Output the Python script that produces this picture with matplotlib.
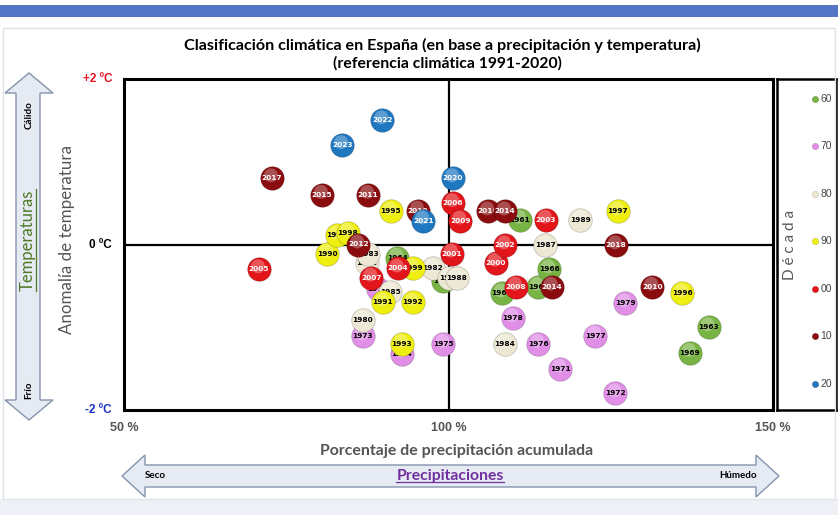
import matplotlib
matplotlib.use('Agg')
import matplotlib.pyplot as plt
from matplotlib import patches, transforms
import numpy as np

# ---------------- data ----------------
years = ['1961', '1962', '1963', '1964', '1965', '1966', '1967', '1969',
         '1970', '1971', '1972', '1973', '1974', '1975', '1976', '1977', '1978', '1979',
         '1980', '1981', '1982', '1983', '1984', '1985', '1986', '1987', '1988', '1989',
         '1990', '1991', '1992', '1993', '1994', '1995', '1996', '1997', '1998', '1999',
         '2000', '2001', '2002', '2003', '2004', '2005', '2006', '2007', '2008', '2009',
         '2010', '2011', '2012', '2014', '2015', '2016', '2014', '2017', '2018', '2010',
         '2020', '2021', '2022', '2023']
precip = [111.0, 113.8, 140.1, 92.1, 108.2, 115.5, 99.2, 137.2,
          89.1, 117.2, 125.7, 86.8, 92.8, 99.2, 113.8, 122.6, 109.9, 127.2,
          86.8, 87.4, 97.6, 87.6, 108.7, 91.0, 100.1, 114.9, 101.3, 120.3,
          81.3, 89.9, 94.5, 92.8, 82.8, 91.1, 136.0, 126.1, 84.5, 94.5,
          107.3, 100.5, 108.7, 115.0, 92.2, 70.8, 100.7, 88.1, 110.4, 101.8,
          131.4, 87.6, 86.1, 115.9, 80.5, 106.1, 108.7, 72.8, 125.8, 95.3,
          100.7, 96.1, 89.8, 83.6]
temp = [0.30, -0.51, -1.00, -0.16, -0.59, -0.30, -0.44, -1.31,
        -0.54, -1.50, -1.80, -1.11, -1.32, -1.20, -1.20, -1.10, -0.89, -0.71,
        -0.91, -0.22, -0.29, -0.11, -1.20, -0.57, -0.40, -0.01, -0.40, 0.30,
        -0.11, -0.70, -0.70, -1.20, 0.11, 0.40, -0.59, 0.40, 0.145, -0.29,
        -0.22, -0.11, -0.01, 0.30, -0.29, -0.30, 0.50, -0.40, -0.51, 0.29,
        -0.51, 0.60, 0.00, -0.51, 0.60, 0.40, 0.40, 0.80, -0.01, 0.41,
        0.80, 0.29, 1.50, 1.20]
decade = ['60'] * 8 + ['70'] * 10 + ['80'] * 10 + ['90'] * 10 + ['00'] * 10 + ['10'] * 10 + ['20'] * 4

decade_labels = ['60', '70', '80', '90', '00', '10', '20']
decade_colors = ['#78b443', '#e08ee6', '#ece8d4', '#eeee10', '#e2151b', '#8a0c0e', '#1f77c0']
decade_text = ['black', 'black', 'black', 'black', 'white', 'white', 'white']

x_ticks = [50, 100, 150]
x_ticklabels = ['50 %', '100 %', '150 %']
y_ticks = [2, 0, -2]
y_ticklabels = ['+2 ºC', '0 ºC', '-2 ºC']
y_tickcolors = ['#e0141e', 'black', '#1a2fc0']

# ---------------- figure ----------------
W, H = 838, 515
fig = plt.figure(figsize=(W / 100, H / 100), dpi=100)
fig.patch.set_facecolor('white')

def fx(px):
    return px / W

def fy(py):
    return 1 - py / H

# top band and bottom band
fig.patches.append(patches.Rectangle((0, fy(17)), 1, fy(5) - fy(17), transform=fig.transFigure,
                                     facecolor='#5475c4', edgecolor='none', zorder=0))
fig.patches.append(patches.Rectangle((0, 0), 1, fy(499), transform=fig.transFigure,
                                     facecolor='#eef0f5', edgecolor='none', zorder=0))
fig.patches.append(patches.Rectangle((fx(3), fy(499)), fx(832), fy(28) - fy(499), transform=fig.transFigure,
                                     facecolor='none', edgecolor='#dfe3ea', lw=1.0, zorder=0))

# ---------------- main axes ----------------
L, R, T, B = 124, 773, 79, 410
ax = fig.add_axes([fx(L), fy(B), fx(R) - fx(L), fy(T) - fy(B)])
ax.set_facecolor('none')
ax.set_xlim(50, 150)
ax.set_ylim(-2, 2)
for sp in ax.spines.values():
    sp.set_linewidth(2.2)
    sp.set_color('black')
ax.axvline(100, color='black', lw=1.6, zorder=1)
ax.axhline(0, color='black', lw=1.6, zorder=1)
ax.set_xticks([])
ax.set_yticks([])

hl = transforms.offset_copy(ax.transData, fig=fig, x=-1.0, y=3.0, units='dots')
for i, (yr, xv, yv, d) in enumerate(zip(years, precip, temp, decade)):
    k = decade_labels.index(d)
    c = decade_colors[k]
    z = 3 + i * 0.01
    ax.scatter([xv], [yv], s=290, color=c, edgecolors='#00000030', linewidths=0.6, zorder=z)
    ax.scatter([xv], [yv], s=100, color='white', alpha=0.28, edgecolors='none', zorder=z + 0.002,
               transform=hl)
    ax.text(xv, yv, yr, fontsize=5.3, fontweight='bold', color=decade_text[k],
            ha='center', va='center', zorder=z + 0.005, family='DejaVu Sans')

# tick labels
for v, lab, col in zip(y_ticks, y_ticklabels, y_tickcolors):
    fig.text(fx(112), ax.transData.transform((50, v))[1] / H, lab, color=col, fontsize=8.5,
             fontweight='bold', ha='right', va='center', family='Liberation Sans')
for v, lab in zip(x_ticks, x_ticklabels):
    fig.text(ax.transData.transform((v, 0))[0] / W, fy(428), lab, color='#555555', fontsize=9,
             fontweight='bold', ha='center', va='center', family='Liberation Sans')

# titles
fig.text(fx(442), fy(45), 'Clasificación climática en España (en base a precipitación y temperatura)',
         fontsize=11.6, fontweight='bold', ha='center', va='center', family='Lato')
fig.text(fx(447), fy(63), '(referencia climática 1991-2020)',
         fontsize=11.3, fontweight='bold', ha='center', va='center', family='Lato')

fig.text(fx(457), fy(451), 'Porcentaje de precipitación acumulada', fontsize=11.4, fontweight='bold',
         color='#555555', ha='center', va='center', family='Lato')
fig.text(fx(67), fy(240), 'Anomalía de temperatura', fontsize=12.2, color='#555555', rotation=90,
         ha='center', va='center', family='Lato')

# ---------------- arrows ----------------
vpts = [(29, 73), (53, 93), (40, 93), (40, 400), (53, 400), (29, 420), (5, 400), (16, 400), (16, 93), (5, 93)]
fig.patches.append(patches.Polygon([(fx(a), fy(b)) for a, b in vpts], closed=True, transform=fig.transFigure,
                                   facecolor='#e6eaf2', edgecolor='#8593ad', lw=1.0, zorder=1))
hpts = [(122, 476), (145, 455), (145, 465), (756, 465), (756, 455), (779, 476), (756, 497), (756, 487),
        (145, 487), (145, 497)]
fig.patches.append(patches.Polygon([(fx(a), fy(b)) for a, b in hpts], closed=True, transform=fig.transFigure,
                                   facecolor='#e6eaf2', edgecolor='#8593ad', lw=1.0, zorder=1))

fig.text(fx(29), fy(115), 'Cálido', fontsize=7, fontweight='bold', rotation=90, ha='center', va='center',
         family='Lato')
fig.text(fx(29), fy(390), 'Frío', fontsize=7, fontweight='bold', rotation=90, ha='center', va='center',
         family='Lato')
t_temp = fig.text(fx(28), fy(240), 'Temperaturas', fontsize=12, color='#4e7a26', rotation=90,
                  ha='center', va='center', family='Lato')
fig.text(fx(155), fy(476), 'Seco', fontsize=7, fontweight='bold', ha='center', va='center', family='Lato')
fig.text(fx(738), fy(476), 'Húmedo', fontsize=7, fontweight='bold', ha='center', va='center', family='Lato')
t_prec = fig.text(fx(450), fy(476), 'Precipitaciones', fontsize=11.3, fontweight='bold', color='#7030a0',
                  ha='center', va='center', family='Lato')

# ---------------- legend panel ----------------
lax = fig.add_axes([fx(777), fy(B), fx(836) - fx(777), fy(T) - fy(B)])
lax.set_xlim(0, 1)
lax.set_ylim(0, 1)
lax.set_xticks([])
lax.set_yticks([])
lax.set_facecolor('none')
for sp in lax.spines.values():
    sp.set_linewidth(1.8)
lpos = np.linspace(0.94, 0.08, len(decade_labels))
for lab, col, yy in zip(decade_labels, decade_colors, lpos):
    lax.scatter([0.64], [yy], s=22, color=col, edgecolors='#00000030', linewidths=0.4)
    lax.text(0.74, yy, lab, fontsize=7.5, color='#444444', va='center', ha='left', family='Liberation Sans')
lax.text(0.22, 0.5, 'D é c a d a', rotation=90, fontsize=11, color='#5a5a5a', ha='center', va='center',
         family='Lato')

# underlines
fig.canvas.draw()
r = fig.canvas.get_renderer()
bb = t_prec.get_window_extent(r)
fig.lines.append(plt.Line2D([bb.x0 / W, bb.x1 / W], [(bb.y0 + 1) / H] * 2, transform=fig.transFigure,
                            color='#7030a0', lw=0.9))
bb = t_temp.get_window_extent(r)
fig.lines.append(plt.Line2D([(bb.x1 + 0) / W] * 2, [bb.y0 / H, bb.y1 / H], transform=fig.transFigure,
                            color='#4e7a26', lw=0.9))

fig.savefig('out.png', dpi=100, facecolor=fig.get_facecolor())
